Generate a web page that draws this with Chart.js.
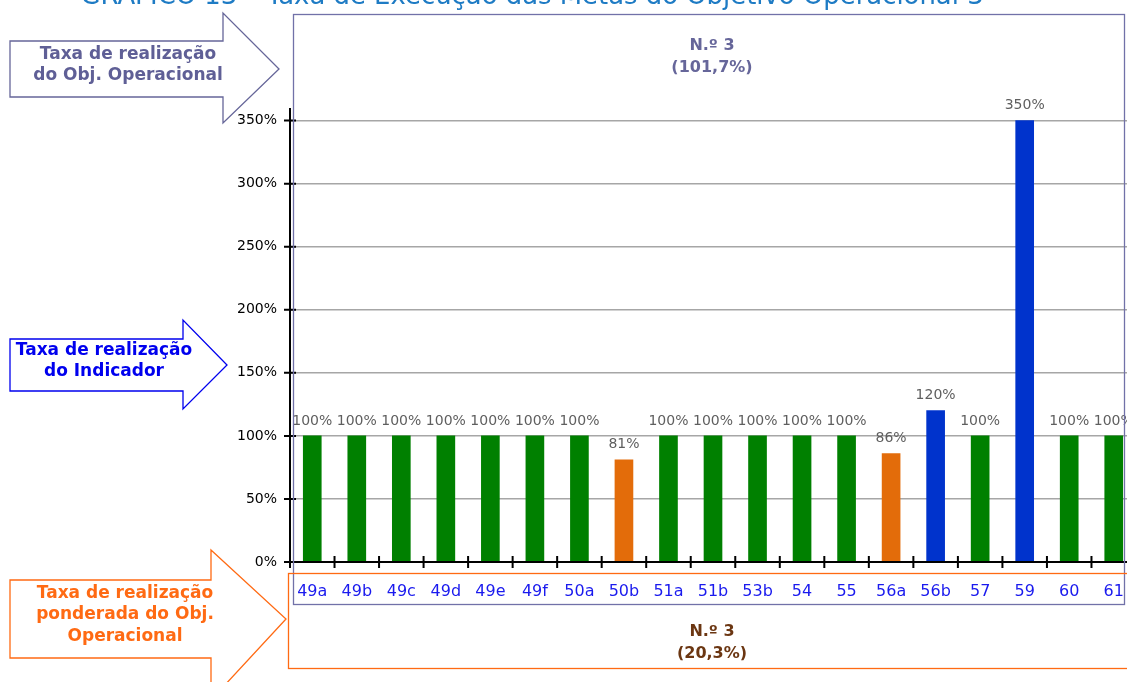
<!DOCTYPE html>
<html>
<head>
<meta charset="utf-8">
<script src="https://cdn.jsdelivr.net/npm/chart.js@4.4.1/dist/chart.umd.min.js"></script>
<style>
  html, body { margin: 0; padding: 0; background: #fff; overflow: hidden; }
  #wrap { position: absolute; left: 0; top: 0; width: 1136px; height: 682px; }
</style>
</head>
<body>
<div id="wrap"><canvas id="chart" width="1136" height="682"></canvas></div>
<script>
const metas = ['49a', '49b', '49c', '49d', '49e', '49f', '50a', '50b', '51a', '51b', '53b', '54', '55', '56a', '56b', '57', '59', '60', '61'];
const taxas = [100, 100, 100, 100, 100, 100, 100, 81, 100, 100, 100, 100, 100, 86, 120, 100, 350, 100, 100];
const yTicks = [0, 50, 100, 150, 200, 250, 300, 350];

const tituloGrafico = 'GRÁFICO 13 – Taxa de Execução das Metas do Objetivo Operacional 3';
const objOperacional = ['N.º 3', '(101,7%)'];
const objPonderado = ['N.º 3', '(20,3%)'];

// cor da barra conforme a taxa
function corBarra(v) {
    if (v < 100) return '#e36c0a';
    if (v > 100) return '#0033cc';
    return '#008000';
}

function seta(ctx, cor, x0, top, bottom, headX, headTop, headBottom, tipX, tipY) {
    ctx.beginPath();
    ctx.moveTo(x0, top);
    ctx.lineTo(headX, top);
    ctx.lineTo(headX, headTop);
    ctx.lineTo(tipX, tipY);
    ctx.lineTo(headX, headBottom);
    ctx.lineTo(headX, bottom);
    ctx.lineTo(x0, bottom);
    ctx.closePath();
    ctx.fillStyle = '#fff';
    ctx.fill();
    ctx.strokeStyle = cor;
    ctx.lineWidth = 1.3;
    ctx.stroke();
}

function linhas(ctx, txt, cor, x, ys, font) {
    ctx.fillStyle = cor;
    ctx.font = font;
    ctx.textAlign = 'center';
    ctx.textBaseline = 'middle';
    txt.forEach((t, i) => ctx.fillText(t, x, ys[i]));
}

const molduras = {
    id: 'molduras',
    beforeDraw(chart) {
        const ctx = chart.ctx;
        ctx.save();
        // titulo (cortado no topo), largura ajustada a ~905px
        ctx.font = '23px "DejaVu Sans"';
        const tam = 23 * 905 / ctx.measureText(tituloGrafico).width;
        ctx.font = tam.toFixed(1) + 'px "DejaVu Sans"';
        ctx.fillStyle = '#1e7bc4';
        ctx.textAlign = 'center';
        ctx.textBaseline = 'alphabetic';
        ctx.fillText(tituloGrafico, 532, 4);

        seta(ctx, '#666699', 10, 41, 97, 223, 13, 123, 279, 69);
        linhas(ctx, ['Taxa de realização', 'do Obj. Operacional'], '#5f5f96', 128, [55, 76], 'bold 17px "DejaVu Sans"');

        seta(ctx, '#0000ee', 10, 339, 391, 183, 320, 409, 227, 365);
        linhas(ctx, ['Taxa de realização', 'do Indicador'], '#0000ee', 104, [351, 372], 'bold 17px "DejaVu Sans"');

        seta(ctx, '#ff6a13', 10, 580, 658, 211, 550, 700, 286, 619);
        linhas(ctx, ['Taxa de realização', 'ponderada do Obj.', 'Operacional'], '#ff6a13', 125, [594, 615, 637], 'bold 17px "DejaVu Sans"');

        linhas(ctx, objOperacional, '#66669a', 712, [46, 68], 'bold 16px "DejaVu Sans"');
        linhas(ctx, objPonderado, '#6b3612', 712, [632, 654], 'bold 16px "DejaVu Sans"');
        ctx.restore();
    },
    afterDatasetsDraw(chart) {
        const ctx = chart.ctx;
        const area = chart.chartArea;
        const y = chart.scales.y;
        ctx.save();

        // rotulos dos valores
        ctx.fillStyle = '#5f5f5f';
        ctx.font = '14px "DejaVu Sans"';
        ctx.textAlign = 'center';
        ctx.textBaseline = 'bottom';
        chart.getDatasetMeta(0).data.forEach((bar, i) => {
            ctx.fillText(taxas[i] + '%', bar.x, bar.y - 8);
        });

        // eixos
        ctx.strokeStyle = '#000';
        ctx.lineWidth = 2;
        ctx.beginPath();
        ctx.moveTo(area.left, 108);
        ctx.lineTo(area.left, area.bottom + 6);
        ctx.moveTo(area.left - 6, area.bottom);
        ctx.lineTo(chart.width, area.bottom);
        yTicks.forEach(v => {
            const py = y.getPixelForValue(v);
            ctx.moveTo(area.left - 6, py);
            ctx.lineTo(area.left + 6, py);
        });
        const passo = (area.right - area.left) / metas.length;
        for (let i = 1; i < metas.length; i++) {
            const px = area.left + i * passo;
            ctx.moveTo(px, area.bottom - 6);
            ctx.lineTo(px, area.bottom + 6);
        }
        ctx.stroke();

        // caixas
        ctx.lineWidth = 1.3;
        ctx.strokeStyle = '#7171a8';
        ctx.strokeRect(293.5, 14.5, 831, 590);
        ctx.strokeStyle = '#ff6a13';
        ctx.strokeRect(288.5, 573.5, 900, 95);
        ctx.restore();
    }
};

new Chart(document.getElementById('chart'), {
    type: 'bar',
    data: {
        labels: metas,
        datasets: [{
            data: taxas,
            backgroundColor: taxas.map(corBarra),
            barThickness: 18,
            borderWidth: 0
        }]
    },
    options: {
        responsive: false,
        animation: false,
        layout: { padding: { top: 108, right: 0, bottom: 0, left: 0 } },
        plugins: {
            legend: { display: false },
            tooltip: { enabled: false }
        },
        scales: {
            x: {
                grid: { display: false },
                border: { display: false },
                ticks: {
                    color: '#1a1aee',
                    font: { family: 'DejaVu Sans', size: 16 },
                    padding: 12,
                    maxRotation: 0,
                    autoSkip: false
                },
                afterFit(scale) { scale.height = 120; }
            },
            y: {
                min: 0,
                max: 360,
                grid: { color: '#a6a6a6', lineWidth: 1.5, drawTicks: false },
                border: { display: false },
                ticks: {
                    stepSize: 50,
                    color: '#000',
                    font: { family: 'DejaVu Sans', size: 14 },
                    padding: 13,
                    callback: v => v + '%'
                },
                afterBuildTicks(scale) {
                    scale.ticks = yTicks.map(v => ({ value: v }));
                },
                afterFit(scale) { scale.width = 290; }
            }
        }
    },
    plugins: [molduras]
});
</script>
</body>
</html>
